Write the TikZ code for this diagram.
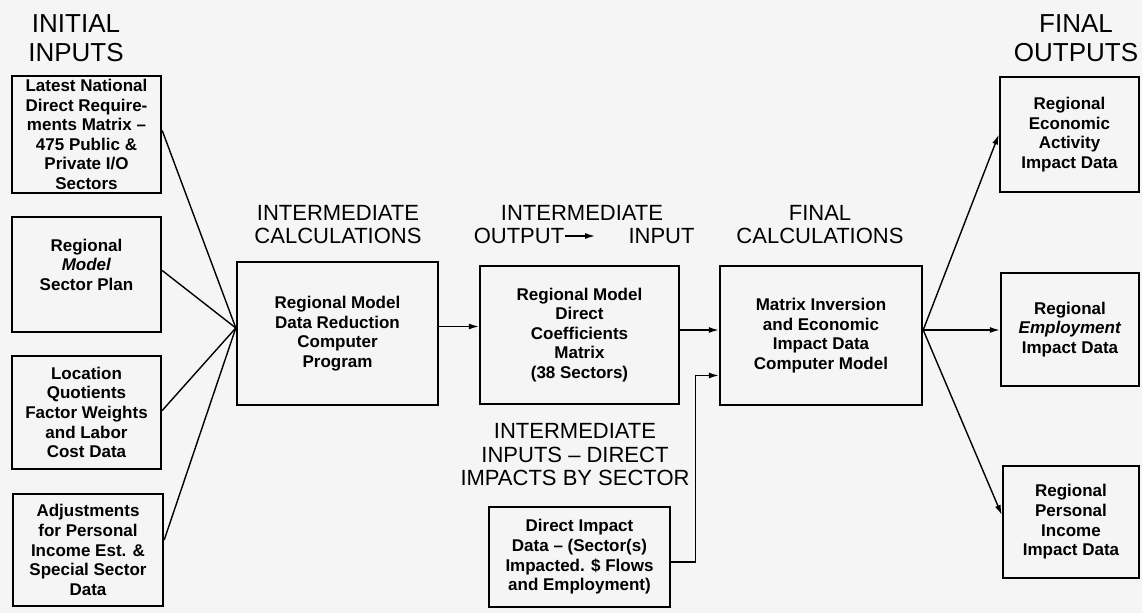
\documentclass[tikz,border=0pt]{standalone}
\usepackage{fontspec}
\setmainfont{Liberation Sans}
\usetikzlibrary{arrows.meta}

\begin{document}
\begin{tikzpicture}[x=0.5pt,y=-0.5pt,
    box/.style={draw,line width=1.2pt,inner sep=0pt,align=center,font=\fontsize{8.5}{9.8}\selectfont\bfseries},
    head/.style={inner sep=0pt,align=center,font=\fontsize{11}{11.75}\selectfont},
    bighead/.style={inner sep=0pt,align=center,font=\fontsize{13}{14.25}\selectfont},
    link/.style={line width=0.7pt},
    arr/.style={line width=0.7pt,-{Latex[length=5pt,width=3pt]}}]

    \fill[black!4] (0,0) rectangle (1142,613);
    \useasboundingbox (0,0) rectangle (1142,613);

    % headings
    \node[bighead] (hinit) at (76,38) {INITIAL\\INPUTS};
    \node[bighead] (hfinal) at (1076,38) {FINAL\\OUTPUTS};
    \node[head] (hcalc) at (338,224.5) {INTERMEDIATE\\CALCULATIONS};
    \node[head] (hmid) at (582,213) {INTERMEDIATE};
    \node[head] (hout) at (519,236) {OUTPUT};
    \node[head] (hin) at (661.5,236) {INPUT};
    \node[head] (hfcalc) at (820,224.5) {FINAL\\CALCULATIONS};
    \node[head] (himp) at (575,455) {INTERMEDIATE\\INPUTS -- DIRECT\\IMPACTS BY SECTOR};

    % initial inputs
    \node[box,minimum width=74.5pt,minimum height=58.5pt] (nat) at (86.5,134.5)
        {Latest National\\Direct Require-\\ments Matrix --\\475 Public \&\\Private I/O\\Sectors};
    \node[box,minimum width=74.5pt,minimum height=57.5pt] (plan) at (86.5,274.5)
        {Regional\\\textit{Model}\\Sector Plan\\~};
    \node[box,minimum width=74.5pt,minimum height=56.5pt] (quot) at (86.5,412.5)
        {Location\\Quotients\\Factor Weights\\and Labor\\Cost Data};
    \node[box,minimum width=75pt,minimum height=56pt] (adj) at (88,550)
        {Adjustments\\for Personal\\Income Est. \&\\Special Sector\\Data};

    % middle boxes
    \node[box,minimum width=100.5pt,minimum height=71.5pt] (calc) at (337.5,333.5)
        {Regional Model\\Data Reduction\\Computer\\Program};
    \node[box,minimum width=99.5pt,minimum height=69pt] (coef) at (579.5,335)
        {Regional Model\\Direct\\Coefficients\\Matrix\\(38 Sectors)};
    \node[box,minimum width=90.5pt,minimum height=50pt] (dimp) at (579.5,557)
        {Direct Impact\\Data -- (Sector(s)\\Impacted. \$ Flows\\and Employment)};
    \node[box,minimum width=101pt,minimum height=69.5pt] (minv) at (821,335.5)
        {Matrix Inversion\\and Economic\\Impact Data\\Computer Model};

    % final outputs
    \node[box,minimum width=69.5pt,minimum height=57.5pt] (econ) at (1069.5,134.5)
        {Regional\\Economic\\Activity\\Impact Data};
    \node[box,minimum width=69pt,minimum height=56.5pt] (empl) at (1070,329.5)
        {Regional\\\textit{Employment}\\Impact Data};
    \node[box,minimum width=68pt,minimum height=56pt] (pinc) at (1071,522)
        {Regional\\Personal\\Income\\Impact Data};

    % connectors
    \coordinate (calcin) at ([yshift=2.75pt]calc.west);
    \coordinate (minvout) at ([yshift=2.75pt]minv.east);
    \draw[link] ([yshift=2pt]nat.east) -- (calcin);
    \draw[link] ([yshift=2pt]plan.east) -- (calcin);
    \draw[link] ([yshift=1pt]quot.east) -- (calcin);
    \draw[link] ([yshift=5pt]adj.east) -- (calcin);
    \draw[arr] ([yshift=3.5pt]calc.east) -- ([yshift=3.5pt]calc.east -| coef.west);
    \draw[arr] ([yshift=2.5pt]coef.east) -- ([yshift=2.5pt]coef.east -| minv.west);
    \draw[arr] ([yshift=-2.5pt]dimp.east) -- ++(24,0) |- ([yshift=-20pt]minv.west);
    \draw[arr] (minvout) -- (econ.west);
    \draw[arr] (minvout) -- (minvout -| empl.west);
    \draw[arr] (minvout) -- ([yshift=3.5pt]pinc.west);
    \draw[arr,shorten >=16.5pt] (hout.east) -- (hin.west);

\end{tikzpicture}
\end{document}
